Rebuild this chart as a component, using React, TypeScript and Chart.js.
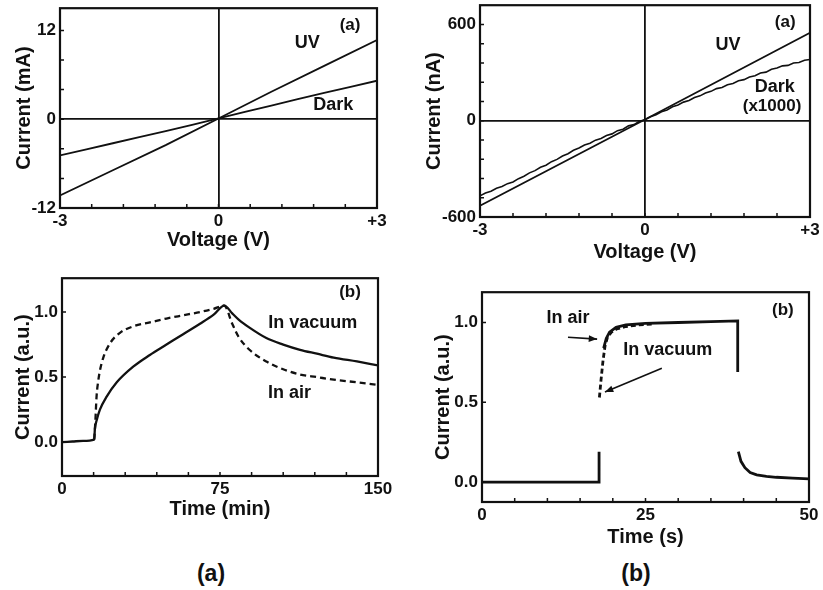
import React, { useEffect, useRef } from 'react';
import { Chart, registerables } from 'chart.js';

Chart.register(...registerables);

const SANS = '"Liberation Sans", Arial, Helvetica, sans-serif';
const INK = '#111111';

// ---------- Top-left: I-V, current in mA ----------
const tlVoltage = [-3, -2, -1, 0, 1, 2, 3];
const tlUV = [-10.3, -6.9, -3.5, 0.1, 3.7, 7.2, 10.7];
const tlDark = [-4.9, -3.25, -1.6, 0.1, 1.85, 3.55, 5.2];
const tlYTicks = [-12, -8, -4, 0, 4, 8, 12];
const tlYLabelVals = [-12, 0, 12];
const tlYLabelText = ['-12', '0', '12'];

// shared voltage axis ticks
const voltTicks = [-3, -2.4, -1.8, -1.2, -0.6, 0, 0.6, 1.2, 1.8, 2.4, 3];
const voltLabelVals = [-3, 0, 3];
const voltLabelText = ['-3', '0', '+3'];

// ---------- Top-right: I-V, current in nA ----------
const trUVVoltage = [-3, 0, 3];
const trUV = [-530, 8, 548];
const trDarkVoltage = [
  -3.0, -2.9, -2.8, -2.7, -2.6, -2.5, -2.4, -2.3, -2.2, -2.1, -2.0, -1.9, -1.8, -1.7, -1.6, -1.5,
  -1.4, -1.3, -1.2, -1.1, -1.0, -0.9, -0.8, -0.7, -0.6, -0.5, -0.4, -0.3, -0.2, -0.1, 0.0, 0.1,
  0.2, 0.3, 0.4, 0.5, 0.6, 0.7, 0.8, 0.9, 1.0, 1.1, 1.2, 1.3, 1.4, 1.5, 1.6, 1.7, 1.8, 1.9, 2.0,
  2.1, 2.2, 2.3, 2.4, 2.5, 2.6, 2.7, 2.8, 2.9, 3.0,
];
const trDark = [
  -468, -450, -439, -421, -410, -392, -382, -361, -346, -325, -311, -290, -277, -255, -241, -220,
  -206, -184, -170, -151, -140, -121, -111, -92, -82, -62, -53, -32, -24, -3, 6, 25,
  37, 56, 67, 87, 98, 116, 126, 145, 155, 173, 183, 200, 207, 224, 232, 249, 256, 272, 280,
  297, 303, 321, 328, 342, 345, 360, 363, 377, 382,
];
const trYTicks = [-600, -480, -360, -240, -120, 0, 120, 240, 360, 480, 600];
const trYLabelVals = [-600, 0, 600];
const trYLabelText = ['-600', '0', '600'];

// ---------- Bottom-left: transient, minutes ----------
const blTimeVacuum = [0, 5, 10, 15.3, 15.6, 16.5, 18, 21.2, 26, 33.8, 41.7, 49.6, 57.5, 65.5, 72, 77, 80.8, 84, 89, 97, 105, 113, 121, 129, 140, 150];
const blVacuum = [0, 0.005, 0.01, 0.02, 0.1, 0.17, 0.25, 0.35, 0.46, 0.58, 0.67, 0.75, 0.83, 0.91, 0.98, 1.05, 0.99, 0.94, 0.88, 0.8, 0.75, 0.71, 0.68, 0.65, 0.62, 0.59];
const blTimeAir = [15.3, 15.8, 16.4, 17.2, 18, 19.6, 22.8, 27.5, 33.8, 41.7, 49.6, 57.5, 65.5, 72, 77, 80.8, 83.8, 89, 97, 105, 113, 121, 129, 140, 150];
const blAir = [0.02, 0.15, 0.35, 0.47, 0.55, 0.65, 0.76, 0.84, 0.89, 0.92, 0.95, 0.975, 1.0, 1.025, 1.05, 0.91, 0.81, 0.71, 0.62, 0.56, 0.52, 0.5, 0.48, 0.46, 0.44];
const blXTicks = [0, 15, 30, 45, 60, 75, 90, 105, 120, 135, 150];
const blXLabelVals = [0, 75, 150];
const blXLabelText = ['0', '75', '150'];

// ---------- Bottom-right: transient, seconds ----------
const brTimeAir = [0, 17.9, 17.9, 18.2, 18.6, 19, 19.5, 20.5, 22, 25, 30, 35, 39.1, 39.1, 39.15, 39.2, 39.6, 40.2, 41, 42, 43.5, 45, 47.5, 50];
const brAir = [0, 0, 0.19, null, 0.84, 0.9, 0.94, 0.97, 0.985, 0.995, 1.0, 1.005, 1.01, 0.69, null, 0.19, 0.13, 0.09, 0.06, 0.045, 0.035, 0.03, 0.025, 0.02];
const brTimeVacuum = [17.95, 18.2, 18.5, 18.8, 19.2, 19.8, 20.6, 22, 24, 26];
const brVacuum = [0.53, 0.64, 0.76, 0.85, 0.91, 0.94, 0.96, 0.975, 0.985, 0.99];
const brXTicks = [0, 5, 10, 15, 20, 25, 30, 35, 40, 45, 50];
const brXLabelVals = [0, 25, 50];
const brXLabelText = ['0', '25', '50'];

const auYTicks = [0, 0.5, 1.0];
const auYLabelVals = [0, 0.5, 1.0];
const auYLabelText = ['0.0', '0.5', '1.0'];

type Note = { x: number; y: number; text: string; size?: number };
type Arrow = { x1: number; y1: number; x2: number; y2: number };

function pairs(xs: number[], ys: (number | null)[]) {
  return xs.map((x, i) => ({ x, y: ys[i] }));
}

function labelFor(vals: number[], texts: string[]) {
  return (v: any) => {
    const i = vals.findIndex((t) => Math.abs(t - Number(v)) < 1e-9);
    return i >= 0 ? texts[i] : '';
  };
}

const framePlugin = {
  id: 'frameTicks',
  afterDatasetsDraw(chart: any) {
    const { ctx, chartArea: a, scales } = chart;
    ctx.save();
    ctx.strokeStyle = INK;
    ctx.lineWidth = 1.5;
    ctx.beginPath();
    for (const t of scales.x.ticks) {
      const px = scales.x.getPixelForValue(t.value);
      ctx.moveTo(px, a.bottom);
      ctx.lineTo(px, a.bottom - 4);
    }
    for (const t of scales.y.ticks) {
      const py = scales.y.getPixelForValue(t.value);
      ctx.moveTo(a.left, py);
      ctx.lineTo(a.left + 4, py);
    }
    ctx.stroke();
    ctx.lineWidth = 2.2;
    ctx.strokeRect(a.left, a.top, a.right - a.left, a.bottom - a.top);
    ctx.restore();
  },
};

function notesPlugin(notes: Note[], arrows: Arrow[]) {
  return {
    id: 'notes',
    afterDatasetsDraw(chart: any) {
      const { ctx, scales } = chart;
      const X = scales.x;
      const Y = scales.y;
      ctx.save();
      ctx.fillStyle = INK;
      ctx.strokeStyle = INK;
      ctx.textBaseline = 'middle';
      ctx.textAlign = 'center';
      for (const n of notes) {
        ctx.font = `bold ${n.size ?? 18}px ${SANS}`;
        ctx.fillText(n.text, X.getPixelForValue(n.x), Y.getPixelForValue(n.y));
      }
      ctx.lineWidth = 1.6;
      for (const a of arrows) {
        const x1 = X.getPixelForValue(a.x1);
        const y1 = Y.getPixelForValue(a.y1);
        const x2 = X.getPixelForValue(a.x2);
        const y2 = Y.getPixelForValue(a.y2);
        ctx.beginPath();
        ctx.moveTo(x1, y1);
        ctx.lineTo(x2, y2);
        ctx.stroke();
        const ang = Math.atan2(y2 - y1, x2 - x1);
        const h = 9;
        ctx.beginPath();
        ctx.moveTo(x2, y2);
        ctx.lineTo(x2 - h * Math.cos(ang - 0.38), y2 - h * Math.sin(ang - 0.38));
        ctx.lineTo(x2 - h * Math.cos(ang + 0.38), y2 - h * Math.sin(ang + 0.38));
        ctx.closePath();
        ctx.fill();
      }
      ctx.restore();
    },
  };
}

type Spec = {
  left: number; top: number; width: number; height: number;
  yWidth: number; xHeight: number; padTop: number; padRight: number;
  xMin: number; xMax: number; yMin: number; yMax: number;
  xTicks: number[]; xLabelVals: number[]; xLabelText: string[];
  yTicks: number[]; yLabelVals: number[]; yLabelText: string[];
  xTitle: string; yTitle: string; xTitlePadBottom: number; yTitlePadTop: number;
  zeroLines: boolean;
  datasets: any[];
  notes: Note[]; arrows: Arrow[];
};

function makeChart(canvas: HTMLCanvasElement, s: Spec) {
  const zeroGrid = s.zeroLines
    ? {
        display: true,
        drawOnChartArea: true,
        drawTicks: false,
        lineWidth: 1.8,
        color: (c: any) => (c.tick && Math.abs(c.tick.value) < 1e-9 ? INK : 'rgba(0,0,0,0)'),
      }
    : { display: false, drawTicks: false };
  return new Chart(canvas, {
    type: 'line',
    data: { datasets: s.datasets },
    plugins: [framePlugin, notesPlugin(s.notes, s.arrows)],
    options: {
      animation: false,
      responsive: false,
      maintainAspectRatio: false,
      devicePixelRatio: 1,
      layout: { padding: { left: 0, top: s.padTop, right: s.padRight, bottom: 0 } },
      plugins: { legend: { display: false }, tooltip: { enabled: false } },
      elements: { point: { radius: 0 } },
      scales: {
        x: {
          type: 'linear',
          min: s.xMin,
          max: s.xMax,
          afterBuildTicks: (sc: any) => {
            sc.ticks = s.xTicks.map((v) => ({ value: v }));
          },
          afterFit: (sc: any) => {
            sc.height = s.xHeight;
          },
          grid: zeroGrid,
          border: { display: false },
          ticks: {
            autoSkip: false,
            maxRotation: 0,
            padding: 3,
            color: INK,
            font: { family: SANS, size: 17, weight: 'bold' },
            callback: labelFor(s.xLabelVals, s.xLabelText),
          },
          title: {
            display: true,
            text: s.xTitle,
            color: INK,
            font: { family: SANS, size: 20, weight: 'bold' },
            padding: { top: 0, bottom: s.xTitlePadBottom },
          },
        },
        y: {
          type: 'linear',
          min: s.yMin,
          max: s.yMax,
          afterBuildTicks: (sc: any) => {
            sc.ticks = s.yTicks.map((v) => ({ value: v }));
          },
          afterFit: (sc: any) => {
            sc.width = s.yWidth;
          },
          grid: zeroGrid,
          border: { display: false },
          ticks: {
            autoSkip: false,
            padding: 4,
            color: INK,
            font: { family: SANS, size: 17, weight: 'bold' },
            callback: labelFor(s.yLabelVals, s.yLabelText),
          },
          title: {
            display: true,
            text: s.yTitle,
            color: INK,
            font: { family: SANS, size: 20, weight: 'bold' },
            padding: { top: s.yTitlePadTop, bottom: 0 },
          },
        },
      },
    } as any,
  });
}

const solid = (data: any[], width: number) => ({
  data,
  borderColor: INK,
  borderWidth: width,
  pointRadius: 0,
  tension: 0,
  fill: false,
  spanGaps: false,
});

const specs: Spec[] = [
  {
    left: 0, top: -6, width: 395, height: 261,
    yWidth: 60, xHeight: 47, padTop: 14, padRight: 18,
    xMin: -3, xMax: 3, yMin: -12, yMax: 15,
    xTicks: voltTicks, xLabelVals: voltLabelVals, xLabelText: voltLabelText,
    yTicks: tlYTicks, yLabelVals: tlYLabelVals, yLabelText: tlYLabelText,
    xTitle: 'Voltage (V)', yTitle: 'Current (mA)', xTitlePadBottom: 3, yTitlePadTop: 12,
    zeroLines: true,
    datasets: [solid(pairs(tlVoltage, tlUV), 1.8), { ...solid(pairs(tlVoltage, tlDark), 1.8), tension: 0.3 }],
    notes: [
      { x: 2.49, y: 12.7, text: '(a)', size: 17 },
      { x: 1.68, y: 10.3, text: 'UV' },
      { x: 2.17, y: 1.9, text: 'Dark' },
    ],
    arrows: [],
  },
  {
    left: 410, top: -9, width: 413, height: 275,
    yWidth: 70, xHeight: 49, padTop: 14, padRight: 13,
    xMin: -3, xMax: 3, yMin: -600, yMax: 720,
    xTicks: voltTicks, xLabelVals: voltLabelVals, xLabelText: voltLabelText,
    yTicks: trYTicks, yLabelVals: trYLabelVals, yLabelText: trYLabelText,
    xTitle: 'Voltage (V)', yTitle: 'Current (nA)', xTitlePadBottom: 2, yTitlePadTop: 12,
    zeroLines: true,
    datasets: [solid(pairs(trUVVoltage, trUV), 1.8), solid(pairs(trDarkVoltage, trDark), 1.6)],
    notes: [
      { x: 2.55, y: 615, text: '(a)', size: 17 },
      { x: 1.51, y: 472, text: 'UV' },
      { x: 2.36, y: 212, text: 'Dark' },
      { x: 2.31, y: 88, text: '(x1000)', size: 17 },
    ],
    arrows: [],
  },
  {
    left: 0, top: 264, width: 398, height: 261,
    yWidth: 62, xHeight: 49, padTop: 14, padRight: 20,
    xMin: 0, xMax: 150, yMin: -0.26, yMax: 1.26,
    xTicks: blXTicks, xLabelVals: blXLabelVals, xLabelText: blXLabelText,
    yTicks: auYTicks, yLabelVals: auYLabelVals, yLabelText: auYLabelText,
    xTitle: 'Time (min)', yTitle: 'Current (a.u.)', xTitlePadBottom: 4, yTitlePadTop: 11,
    zeroLines: false,
    datasets: [
      { ...solid(pairs(blTimeVacuum, blVacuum), 2.3), cubicInterpolationMode: 'monotone' },
      { ...solid(pairs(blTimeAir, blAir), 2.3), cubicInterpolationMode: 'monotone', borderDash: [6, 4] },
    ],
    notes: [
      { x: 136.7, y: 1.15, text: '(b)', size: 17 },
      { x: 119, y: 0.915, text: 'In vacuum' },
      { x: 108, y: 0.38, text: 'In air' },
    ],
    arrows: [],
  },
  {
    left: 410, top: 278, width: 413, height: 274,
    yWidth: 72, xHeight: 50, padTop: 14, padRight: 14,
    xMin: 0, xMax: 50, yMin: -0.125, yMax: 1.19,
    xTicks: brXTicks, xLabelVals: brXLabelVals, xLabelText: brXLabelText,
    yTicks: auYTicks, yLabelVals: auYLabelVals, yLabelText: auYLabelText,
    xTitle: 'Time (s)', yTitle: 'Current (a.u.)', xTitlePadBottom: 3, yTitlePadTop: 21,
    zeroLines: false,
    datasets: [
      solid(pairs(brTimeAir, brAir), 2.8),
      { ...solid(pairs(brTimeVacuum, brVacuum), 2.8), borderDash: [5, 3] },
    ],
    notes: [
      { x: 46, y: 1.077, text: '(b)', size: 17 },
      { x: 13.15, y: 1.027, text: 'In air' },
      { x: 28.4, y: 0.827, text: 'In vacuum' },
    ],
    arrows: [
      { x1: 13.15, y1: 0.908, x2: 17.6, y2: 0.896 },
      { x1: 27.5, y1: 0.714, x2: 18.8, y2: 0.564 },
    ],
  },
];

export default function App() {
  const refs = [useRef<HTMLCanvasElement>(null), useRef<HTMLCanvasElement>(null), useRef<HTMLCanvasElement>(null), useRef<HTMLCanvasElement>(null)];
  useEffect(() => {
    const charts = specs.map((s, i) => makeChart(refs[i].current as HTMLCanvasElement, s));
    return () => charts.forEach((c) => c.destroy());
  }, []);
  return (
    <div style={{ position: 'fixed', left: 0, top: 0, width: 823, height: 590, background: '#fff', overflow: 'hidden' }}>
      {specs.map((s, i) => (
        <canvas
          key={i}
          ref={refs[i]}
          width={s.width}
          height={s.height}
          style={{ position: 'absolute', left: s.left, top: s.top, width: s.width, height: s.height }}
        />
      ))}
      <div style={{ position: 'absolute', left: 181, top: 560, width: 60, textAlign: 'center', font: `bold 23px ${SANS}`, color: INK }}>(a)</div>
      <div style={{ position: 'absolute', left: 606, top: 560, width: 60, textAlign: 'center', font: `bold 23px ${SANS}`, color: INK }}>(b)</div>
    </div>
  );
}
